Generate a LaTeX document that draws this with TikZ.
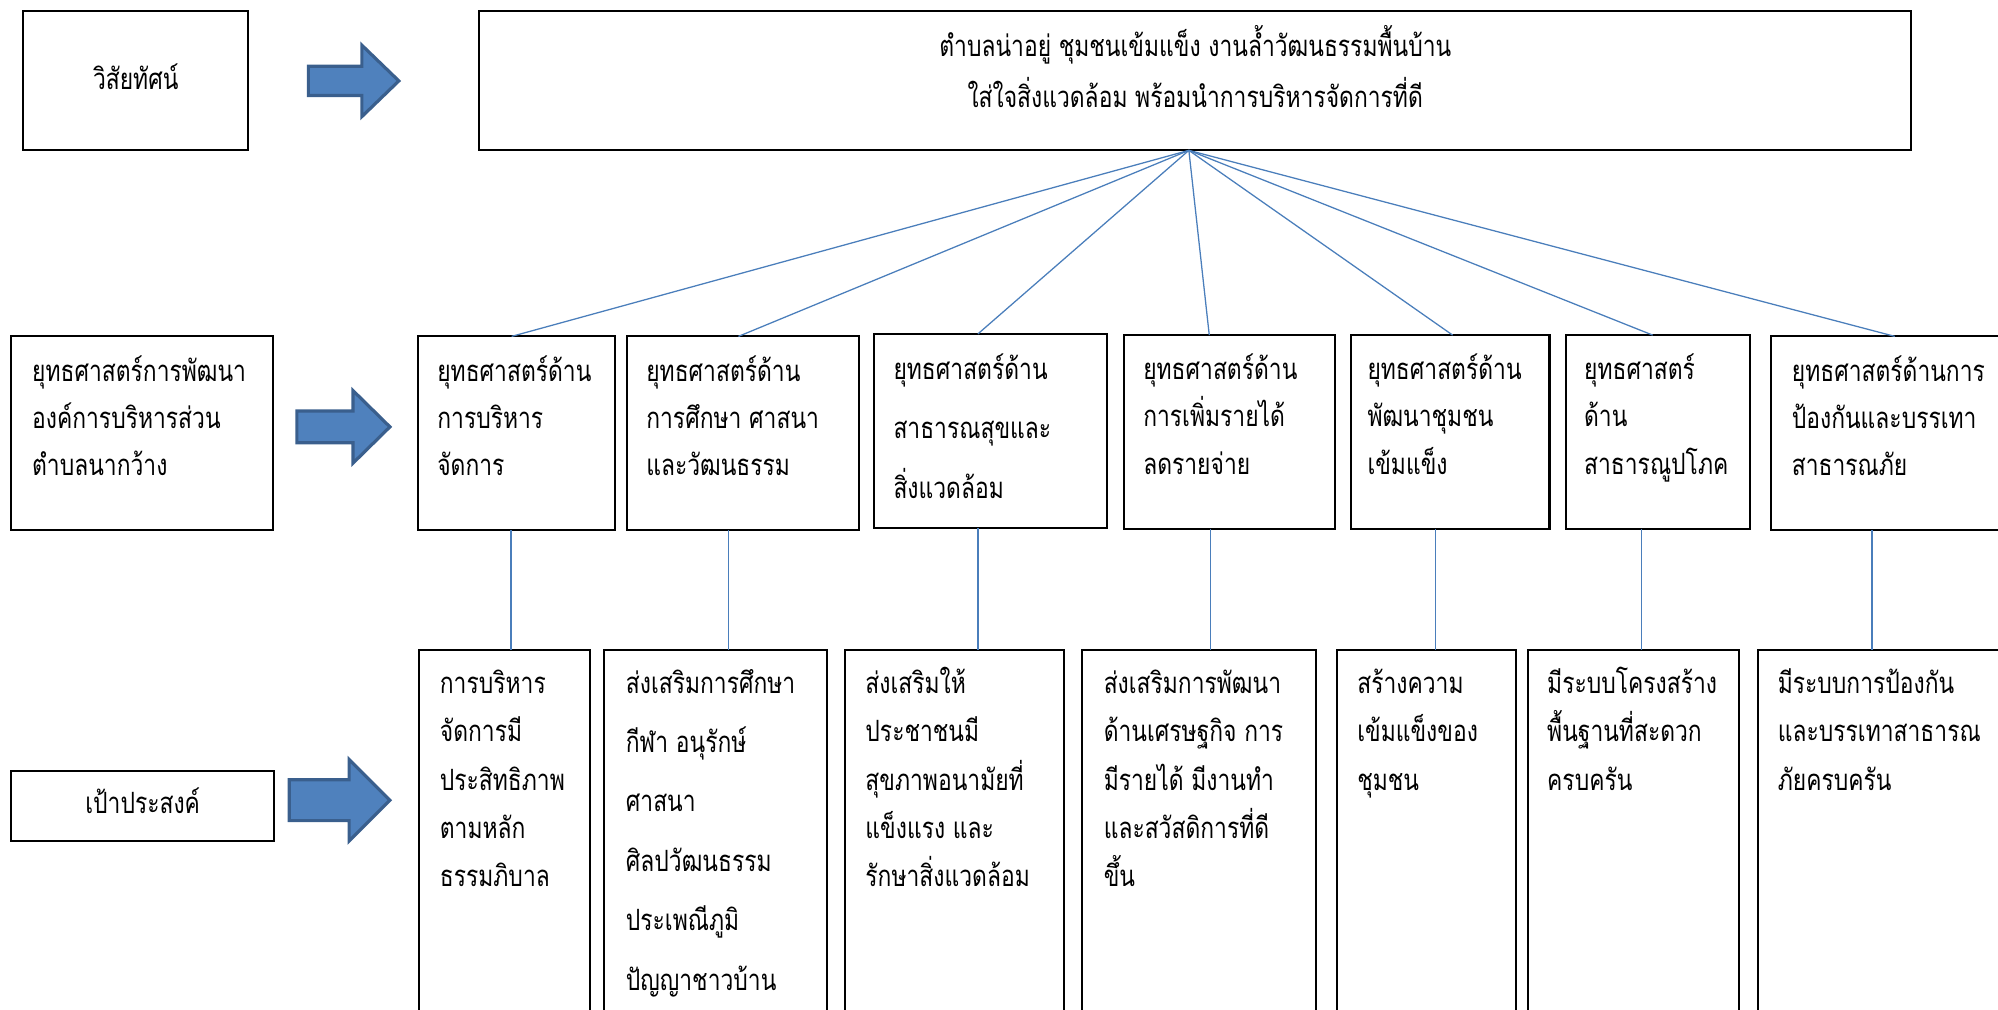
\documentclass[tikz,border=0pt]{standalone}
\usepackage{fontspec}
\newfontfamily\thaifont[Script=Thai,FakeStretch=0.78]{Loma}
\definecolor{linkblue}{HTML}{4A7EBB}
\definecolor{arrowfill}{HTML}{4F81BD}
\definecolor{arrowedge}{HTML}{3A5F8D}
\tikzset{
	box/.style={draw=black,line width=1.6pt,inner sep=0,outer sep=0,anchor=north west},
	txt/.style={font=\thaifont\fontsize{23}{27}\selectfont,inner sep=0,anchor=base west},
	link/.style={draw=linkblue,line width=1pt},
	blockarrow/.style={fill=arrowfill,draw=arrowedge,line width=2.5pt,line join=miter}
}
\begin{document}
\begin{tikzpicture}[x=1pt,y=-1pt]
	\useasboundingbox (0,0) rectangle (1568,792);
	\clip (0,0) rectangle (1568,792);
	% vision row
	\node[box,minimum width=177,minimum height=109] (vis) at (18,9) {};
	\node[txt,anchor=base] (vis-t) at ([shift={(0,7)}]vis.center) {วิสัยทัศน์};
	\node[box,minimum width=1124,minimum height=109] (mis) at (376,9) {};
	\node[txt,anchor=base] (mis-t1) at ([shift={(0,35.5)}]mis.north) {ตำบลน่าอยู่ ชุมชนเข้มแข็ง งานล้ำวัฒนธรรมพื้นบ้าน};
	\node[txt,anchor=base] (mis-t2) at ([shift={(0,75.5)}]mis.north) {ใส่ใจสิ่งแวดล้อม พร้อมนำการบริหารจัดการที่ดี};
	\draw[blockarrow] (242,52) -- (284,52) -- (284,35.5) -- (313,63.5) -- (284,91.5) -- (284,75) -- (242,75) -- cycle;
	% strategy row
	\node[box,minimum width=205,minimum height=152] (plan) at (9,264) {};
	\foreach \t [count=\i from 0] in {ยุทธศาสตร์การพัฒนา,องค์การบริหารส่วน,ตำบลนากว้าง}
		\node[txt] (plan-t\i) at ([shift={(16,{35+37*\i})}]plan.north west) {\t};
	\draw[blockarrow] (233,322.5) -- (277,322.5) -- (277,306.5) -- (306,335) -- (277,363.5) -- (277,347.5) -- (233,347.5) -- cycle;
	\node[box,minimum width=155,minimum height=152] (s1) at (328,264) {};
	\node[box,minimum width=182,minimum height=152] (s2) at (492,264) {};
	\node[box,minimum width=183,minimum height=152.5] (s3) at (686,262) {};
	\node[box,minimum width=166,minimum height=152] (s4) at (882,263) {};
	\node[box,minimum width=156,minimum height=152] (s5) at (1060,263) {};
	\node[box,minimum width=144,minimum height=152] (s6) at (1229,263) {};
	\node[box,minimum width=200,minimum height=152] (s7) at (1390,264) {};
	\foreach \t [count=\i from 0] in {ยุทธศาสตร์ด้าน,การบริหาร,จัดการ}
		\node[txt] (s1-t\i) at ([shift={(15,{35+37*\i})}]s1.north west) {\t};
	\foreach \t [count=\i from 0] in {ยุทธศาสตร์ด้าน,การศึกษา ศาสนา,และวัฒนธรรม}
		\node[txt] (s2-t\i) at ([shift={(15,{35+37*\i})}]s2.north west) {\t};
	\foreach \t [count=\i from 0] in {ยุทธศาสตร์ด้าน,สาธารณสุขและ,สิ่งแวดล้อม}
		\node[txt] (s3-t\i) at ([shift={(15,{36+46.5*\i})}]s3.north west) {\t};
	\foreach \t [count=\i from 0] in {ยุทธศาสตร์ด้าน,การเพิ่มรายได้,ลดรายจ่าย}
		\node[txt] (s4-t\i) at ([shift={(15,{35+37*\i})}]s4.north west) {\t};
	\foreach \t [count=\i from 0] in {ยุทธศาสตร์ด้าน,พัฒนาชุมชน,เข้มแข็ง}
		\node[txt] (s5-t\i) at ([shift={(13,{35+37*\i})}]s5.north west) {\t};
	\foreach \t [count=\i from 0] in {ยุทธศาสตร์,ด้าน,สาธารณูปโภค}
		\node[txt] (s6-t\i) at ([shift={(14,{35+37*\i})}]s6.north west) {\t};
	\foreach \t [count=\i from 0] in {ยุทธศาสตร์ด้านการ,ป้องกันและบรรเทา,สาธารณภัย}
		\node[txt] (s7-t\i) at ([shift={(16,{35+37*\i})}]s7.north west) {\t};
	% fan from the vision box
	\foreach \i/\dx in {1/-4,2/-3.5,3/-10,4/-16,5/2,6/-4,7/-3}
		\draw[link] ([shift={(-5,0)}]mis.south) -- ([shift={(\dx,0)}]s\i.north);
	% goal row
	\node[box,minimum width=206,minimum height=55] (goal) at (9,605) {};
	\node[txt,anchor=base] (goal-t) at ([shift={(0,6)}]goal.center) {เป้าประสงค์};
	\draw[blockarrow] (227,612) -- (274,612) -- (274,596) -- (306,628) -- (274,660) -- (274,644) -- (227,644) -- cycle;
	\node[box,minimum width=134,minimum height=320] (g1) at (329,510) {};
	\node[box,minimum width=175,minimum height=320] (g2) at (474,510) {};
	\node[box,minimum width=172,minimum height=320] (g3) at (663,510) {};
	\node[box,minimum width=184,minimum height=320] (g4) at (849,510) {};
	\node[box,minimum width=141,minimum height=320] (g5) at (1049,510) {};
	\node[box,minimum width=166,minimum height=320] (g6) at (1199,510) {};
	\node[box,minimum width=220,minimum height=320] (g7) at (1380,510) {};
	\foreach \t [count=\i from 0] in {การบริหาร,จัดการมี,ประสิทธิภาพ,ตามหลัก,ธรรมภิบาล}
		\node[txt] (g1-t\i) at ([shift={(16,{34+38*\i})}]g1.north west) {\t};
	\foreach \t [count=\i from 0] in {ส่งเสริมการศึกษา,กีฬา อนุรักษ์,ศาสนา,ศิลปวัฒนธรรม,ประเพณีภูมิ,ปัญญาชาวบ้าน}
		\node[txt] (g2-t\i) at ([shift={(17,{34+46.6*\i})}]g2.north west) {\t};
	\foreach \t [count=\i from 0] in {ส่งเสริมให้,ประชาชนมี,สุขภาพอนามัยที่,แข็งแรง และ,รักษาสิ่งแวดล้อม}
		\node[txt] (g3-t\i) at ([shift={(16,{34+38*\i})}]g3.north west) {\t};
	\foreach \t [count=\i from 0] in {ส่งเสริมการพัฒนา,ด้านเศรษฐกิจ การ,มีรายได้ มีงานทำ,และสวัสดิการที่ดี,ขึ้น}
		\node[txt] (g4-t\i) at ([shift={(17,{34+38*\i})}]g4.north west) {\t};
	\foreach \t [count=\i from 0] in {สร้างความ,เข้มแข็งของ,ชุมชน}
		\node[txt] (g5-t\i) at ([shift={(16,{34+38*\i})}]g5.north west) {\t};
	\foreach \t [count=\i from 0] in {มีระบบโครงสร้าง,พื้นฐานที่สะดวก,ครบครัน}
		\node[txt] (g6-t\i) at ([shift={(15,{34+38*\i})}]g6.north west) {\t};
	\foreach \t [count=\i from 0] in {มีระบบการป้องกัน,และบรรเทาสาธารณ,ภัยครบครัน}
		\node[txt] (g7-t\i) at ([shift={(15,{34+38*\i})}]g7.north west) {\t};
	% strategy to goal
	\foreach \i/\dx in {1/-4.5,2/-11.5,3/-10,4/-15,5/-11.5,6/-13,7/-21}
		\draw[link] ([shift={(\dx,0)}]s\i.south) -- ([shift={(\dx,0)}]s\i.south |- g\i.north);
\end{tikzpicture}
\end{document}
